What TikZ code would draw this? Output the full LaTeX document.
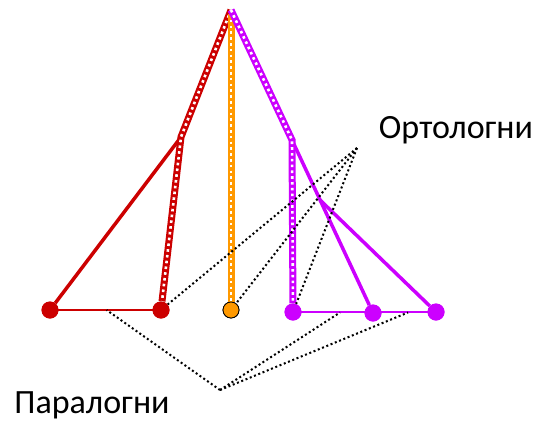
\documentclass[tikz,border=0pt]{standalone}
\usepackage{fontspec}
\setmainfont{Carlito}
\usetikzlibrary{calc}
\definecolor{cred}{RGB}{204,0,0}
\definecolor{corange}{RGB}{255,153,0}
\definecolor{cmag}{RGB}{204,0,255}
\begin{document}
\begin{tikzpicture}[x=1pt,y=-1pt,
  leaf/.style={circle,minimum size=17pt,inner sep=0pt,fill=#1},
  gene/.style={draw=#1,line width=7pt,postaction={draw=white,line width=2.6pt,dash pattern=on 2.6pt off 3.2pt}},
  branch/.style={draw=#1,line width=3.5pt},
  base/.style={draw=#1,line width=1.2pt},
  link/.style={draw=black,line width=2pt,dash pattern=on 2pt off 2.6pt},
  lbl/.style={font=\fontsize{34}{38}\selectfont,inner sep=0pt}]
\useasboundingbox (0,0) rectangle (537,421);
% internal points
\coordinate (top) at (231,10);
\coordinate (topo) at (231,14);
\coordinate (rj) at (181,137);
\coordinate (mj) at (292,140);
\coordinate (mk) at (320,200);
% leaves
\node[leaf=cred] (l1) at (50,310) {};
\node[leaf=cred] (l2) at (161,310) {};
\node[leaf=corange,draw=black,line width=0.8pt,minimum size=16pt] (l3) at (231,310) {};
\node[leaf=cmag] (l4) at (293,312) {};
\node[leaf=cmag] (l5) at (373,313) {};
\node[leaf=cmag] (l6) at (436,312) {};
% base lines
\draw[base=cred] (l1.center) -- (l2.center);
\draw[base=cmag] (l4.center) -- (l6.center);
% branches
\draw[branch=cred] (rj) -- (l1);
\draw[branch=cmag] (mj) -- (l5);
\draw[branch=cmag] (mk) -- (l6);
\draw[gene=cred] (top) -- (rj) -- (l2);
\draw[gene=corange] (topo) -- (l3);
\draw[gene=cmag] (top) -- (mj) -- (l4);
% redraw leaves on top
\node[leaf=cred] at (l1) {};
\node[leaf=cred] at (l2) {};
\node[leaf=corange,draw=black,line width=0.8pt,minimum size=16pt] at (l3) {};
\node[leaf=cmag] at (l4) {};
\node[leaf=cmag] at (l5) {};
\node[leaf=cmag] at (l6) {};
% labels
\node[lbl] (orth) at (456,130) {Ортологни};
\node[lbl] (para) at (92,405) {Паралогни};
\coordinate (oc) at (357,148);
\coordinate (pc) at (220,390);
\coordinate (p1) at ($(l1)!0.51!(l2)$);
\coordinate (p2) at (340,312.5);
\coordinate (p3) at (408,312.5);
\draw[link] (oc) -- (l2);
\draw[link] (oc) -- (l3);
\draw[link] (oc) -- (l4);
\draw[link] (pc) -- (p1);
\draw[link] (pc) -- (p2);
\draw[link] (pc) -- (p3);
\end{tikzpicture}
\end{document}
